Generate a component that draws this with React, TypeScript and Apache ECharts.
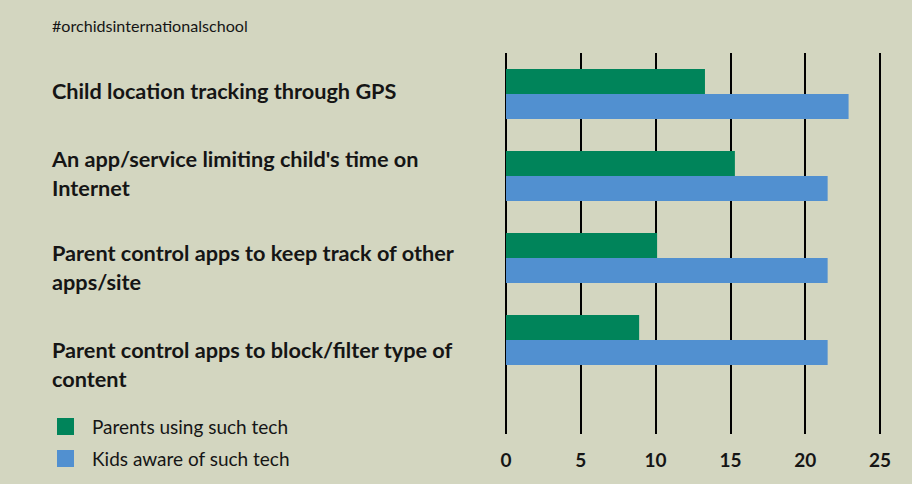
import React, { useEffect, useRef } from "react";
import * as echarts from "echarts";

const title = "#orchidsinternationalschool";
const categories = [
  "Child location tracking through GPS",
  "An app/service limiting child's time on\nInternet",
  "Parent control apps to keep track of other\napps/site",
  "Parent control apps to block/filter type of\ncontent",
];
const parentsUsing = [13.3, 15.3, 10.1, 8.9];
const kidsAware = [22.9, 21.5, 21.5, 21.5];
const seriesNames = ["Parents using such tech", "Kids aware of such tech"];
const xTicks = [0, 5, 10, 15, 20, 25];

const labelY = [91, 173, 267, 364];

const BG = "#d3d6c0";
const GREEN = "#00845a";
const BLUE = "#5190d0";
const INK = "#151515";
const FONT = "Lato, 'Noto Sans', sans-serif";

export default function App() {
  const ref = useRef<HTMLDivElement>(null);
  useEffect(() => {
    if (!ref.current) return;
    const chart = echarts.init(ref.current, undefined, { renderer: "svg" });
    const xMin = xTicks[0];
    const xMax = xTicks[xTicks.length - 1];
    const interval = xTicks[1] - xTicks[0];
    chart.setOption({
      animation: false,
      backgroundColor: BG,
      textStyle: { fontFamily: FONT },
      title: {
        text: title,
        left: 47,
        top: 12,
        textStyle: {
          color: INK,
          fontFamily: FONT,
          fontSize: 16.1,
          fontWeight: "normal",
        },
      },
      grid: [
        { left: 506, right: 32, top: 53, bottom: 50 },
        { left: 506, right: 32, top: 53, height: 328 },
      ],
      xAxis: [
        {
          gridIndex: 0,
          type: "value",
          min: xMin,
          max: xMax,
          interval,
          axisLine: { show: false },
          axisTick: { show: false },
          splitLine: { show: true, lineStyle: { color: "#000", width: 2 } },
          axisLabel: {
            margin: 16,
            color: INK,
            fontFamily: FONT,
            fontSize: 19,
            fontWeight: "bold",
          },
        },
        {
          gridIndex: 1,
          type: "value",
          min: xMin,
          max: xMax,
          interval,
          show: false,
        },
      ],
      yAxis: [
        { gridIndex: 0, type: "value", show: false },
        {
          gridIndex: 1,
          type: "category",
          data: categories,
          inverse: true,
          show: false,
        },
      ],
      legend: {
        orient: "vertical",
        left: 52,
        top: 412,
        itemWidth: 17,
        itemHeight: 17,
        itemGap: 13,
        icon: "rect",
        data: seriesNames,
        textStyle: {
          color: INK,
          fontFamily: FONT,
          fontSize: 19,
          padding: [0, 0, 0, 13],
        },
      },
      graphic: categories.map((c, i) => ({
        type: "text",
        x: 52,
        y: labelY[i],
        style: {
          text: c,
          fill: INK,
          font: `bold 21.7px ${FONT}`,
          lineHeight: 29,
          verticalAlign: "middle",
        },
      })),
      series: [
        {
          name: seriesNames[0],
          type: "bar",
          xAxisIndex: 1,
          yAxisIndex: 1,
          data: parentsUsing,
          barWidth: 25,
          barGap: "0%",
          itemStyle: { color: GREEN },
        },
        {
          name: seriesNames[1],
          type: "bar",
          xAxisIndex: 1,
          yAxisIndex: 1,
          data: kidsAware,
          barWidth: 25,
          barGap: "0%",
          itemStyle: { color: BLUE },
        },
      ],
    });
    return () => chart.dispose();
  }, []);
  return (
    <div
      ref={ref}
      style={{ position: "fixed", left: 0, top: 0, width: 912, height: 484, background: BG }}
    />
  );
}
